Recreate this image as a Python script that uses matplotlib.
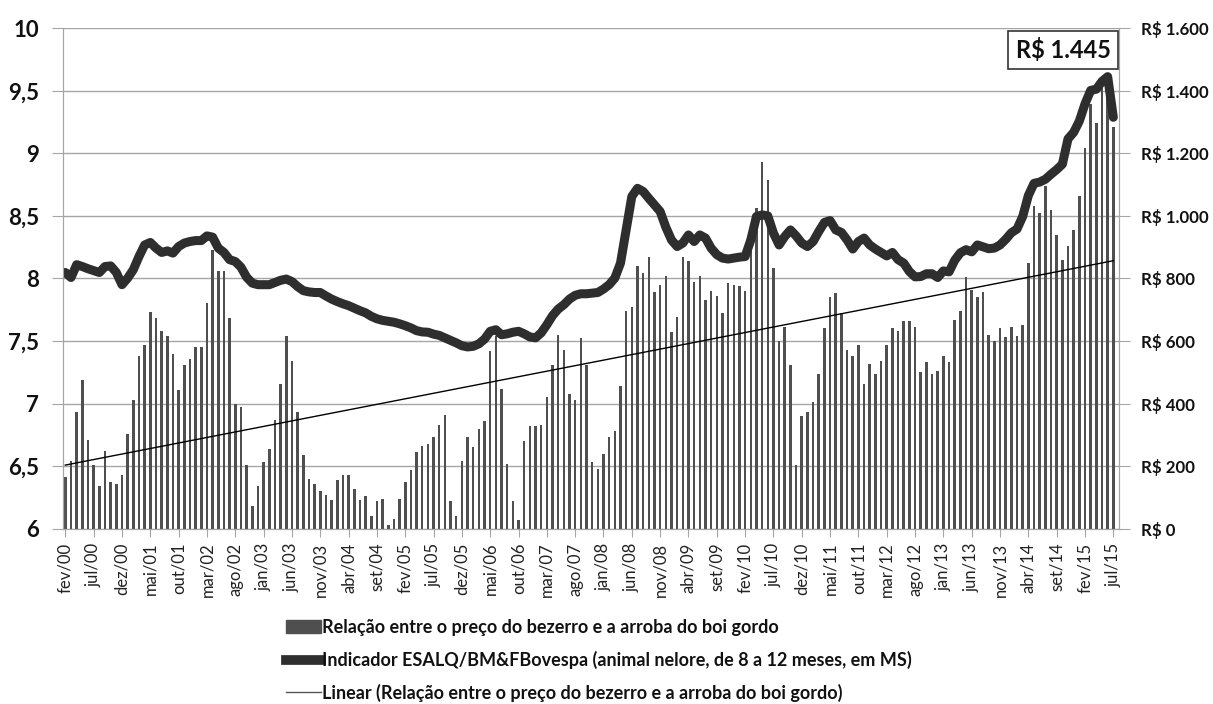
import matplotlib
matplotlib.use("Agg")
from matplotlib import pyplot as plt
from matplotlib.patches import Patch
from matplotlib.lines import Line2D
import numpy as np

plt.rcParams['font.family'] = ['Lato', 'DejaVu Sans']

# meses de fev/00 a jul/15
meses = ['jan', 'fev', 'mar', 'abr', 'mai', 'jun', 'jul', 'ago', 'set', 'out', 'nov', 'dez']
anos = list(range(0, 16))

# relacao bezerro / arroba do boi gordo (eixo esquerdo)
relacao = [6.41, 6.54, 6.93, 7.19, 6.71, 6.51, 6.34, 6.62, 6.37, 6.36,
           6.43, 6.76, 7.03, 7.38, 7.47, 7.73, 7.68, 7.58, 7.54, 7.40,
           7.11, 7.31, 7.36, 7.45, 7.45, 7.80, 8.23, 8.06, 8.06, 7.68,
           7.00, 6.97, 6.51, 6.18, 6.34, 6.53, 6.64, 6.87, 7.16, 7.54,
           7.34, 6.93, 6.59, 6.40, 6.36, 6.30, 6.27, 6.23, 6.39, 6.43,
           6.43, 6.32, 6.23, 6.26, 6.10, 6.22, 6.24, 6.03, 6.08, 6.24,
           6.37, 6.47, 6.61, 6.66, 6.68, 6.73, 6.83, 6.91, 6.22, 6.10,
           6.54, 6.73, 6.65, 6.80, 6.86, 7.42, 7.54, 7.12, 6.52, 6.22,
           6.07, 6.70, 6.82, 6.82, 6.83, 7.05, 7.31, 7.55, 7.43, 7.08,
           7.03, 7.52, 7.31, 6.53, 6.48, 6.60, 6.73, 6.78, 7.14, 7.74,
           7.77, 8.10, 8.04, 8.17, 7.89, 7.95, 8.02, 7.57, 7.69, 8.17,
           8.14, 7.97, 8.02, 7.83, 7.90, 7.86, 7.72, 7.96, 7.95, 7.94,
           7.90, 8.31, 8.56, 8.93, 8.79, 8.08, 7.50, 7.61, 7.31, 6.51,
           6.90, 6.93, 7.01, 7.24, 7.60, 7.85, 7.88, 7.72, 7.43, 7.38,
           7.47, 7.16, 7.32, 7.24, 7.34, 7.47, 7.60, 7.58, 7.66, 7.66,
           7.61, 7.25, 7.33, 7.24, 7.26, 7.38, 7.33, 7.67, 7.74, 8.01,
           7.91, 7.85, 7.89, 7.55, 7.50, 7.60, 7.53, 7.61, 7.54, 7.63,
           8.12, 8.58, 8.52, 8.74, 8.55, 8.35, 8.15, 8.26, 8.39, 8.66,
           9.04, 9.39, 9.24, 9.61, 9.49, 9.21]

# indicador ESALQ/BM&FBovespa em R$ (eixo direito)
indicador = [819, 803, 844, 838, 831, 825, 819, 838, 840, 819,
             780, 801, 828, 870, 907, 915, 897, 883, 888, 881,
             902, 913, 918, 921, 921, 936, 932, 897, 883, 860,
             854, 836, 804, 785, 780, 780, 780, 787, 794, 798,
             790, 774, 761, 757, 755, 755, 744, 734, 726, 719,
             713, 705, 697, 690, 679, 671, 666, 663, 660, 655,
             649, 642, 633, 629, 628, 622, 618, 610, 602, 594,
             585, 581, 583, 591, 606, 631, 636, 620, 623, 628,
             631, 623, 613, 610, 626, 652, 681, 702, 716, 734,
             746, 751, 751, 753, 755, 766, 780, 801, 849, 955,
             1062, 1088, 1078, 1056, 1035, 1014, 964, 923, 902, 913,
             939, 918, 939, 929, 897, 876, 865, 862, 865, 868,
             870, 923, 998, 1003, 1000, 945, 907, 934, 955, 936,
             913, 902, 918, 950, 979, 985, 955, 947, 923, 894,
             918, 929, 907, 894, 883, 872, 883, 860, 849, 822,
             805, 806, 815, 815, 803, 824, 821, 858, 882, 892,
             885, 907, 901, 895, 897, 907, 925, 946, 958, 998,
             1065, 1104, 1108, 1117, 1133, 1148, 1165, 1246, 1267, 1303,
             1358, 1401, 1405, 1430, 1445, 1315]

yticks_esq = [6, 6.5, 7, 7.5, 8, 8.5, 9, 9.5, 10]
ylabels_esq = ['6', '6,5', '7', '7,5', '8', '8,5', '9', '9,5', '10']
yticks_dir = [0, 200, 400, 600, 800, 1000, 1200, 1400, 1600]
ylabels_dir = ['R$ 0', 'R$ 200', 'R$ 400', 'R$ 600', 'R$ 800',
               'R$ 1.000', 'R$ 1.200', 'R$ 1.400', 'R$ 1.600']
destaque = 'R$ 1.445'

rotulos = []
for a in anos:
    for m in meses:
        rotulos.append("%s/%02d" % (m, a))
rotulos = rotulos[1:1 + len(relacao)]

x = np.arange(len(relacao))
tendencia = np.polyval(np.polyfit(x, relacao, 1), x)

fig = plt.figure(figsize=(12.13, 7.04), dpi=100)
ax = fig.add_axes([0.052, 0.249, 0.8705, 0.711])
ax2 = ax.twinx()

cinza = '#a6a6a6'
ax.bar(x, np.array(relacao) - 6, bottom=6, width=0.45, color='#4f4f4f', zorder=2)
ax.plot(x, tendencia, color='black', lw=1.0, zorder=3)
ax2.plot(x, indicador, color='#2e2e2e', lw=6.5, solid_capstyle='round', solid_joinstyle='round')

ax.set_ylim(6, 10)
ax2.set_ylim(0, 1600)
ax.set_xlim(-0.4, 186.0)

ax.set_yticks(yticks_esq)
ax.set_yticklabels(ylabels_esq, fontsize=16, fontweight='bold', color='#111111')
ax2.set_yticks(yticks_dir)
ax2.set_yticklabels(ylabels_dir, fontsize=12.2, fontweight='bold', color='#111111')

ax.set_xticks(x[::5])
ax.set_xticklabels(rotulos[::5], rotation=90, fontsize=12, color='#222222')

ax.grid(axis='y', color=cinza, lw=1.0)
ax.set_axisbelow(True)
for a_ in (ax, ax2):
    for s in a_.spines.values():
        s.set_color(cinza)
    a_.spines['top'].set_visible(False)
ax.tick_params(axis='x', length=6, color=cinza, pad=4)
ax.tick_params(axis='y', length=8, color=cinza, pad=9.5)
ax2.tick_params(axis='y', length=8, color=cinza, pad=8)

ax2.text(0.947, 0.957, destaque, transform=ax.transAxes, ha='center', va='center',
         fontsize=17, fontweight='bold', color='#111111',
         bbox=dict(boxstyle='square,pad=0.3', fc='white', ec='#333333', lw=1.2))

handles = [Patch(color='#4f4f4f'),
           Line2D([], [], color='#2e2e2e', lw=7),
           Line2D([], [], color='#555555', lw=1)]
labels = ['Relação entre o preço do bezerro e a arroba do boi gordo',
          'Indicador ESALQ/BM&FBovespa (animal nelore, de 8 a 12 meses, em MS)',
          'Linear (Relação entre o preço do bezerro e a arroba do boi gordo)']
leg = fig.legend(handles, labels, loc='upper left', bbox_to_anchor=(0.230, 0.131),
                 frameon=False, fontsize=13, handlelength=1.9, handletextpad=0.1,
                 labelspacing=0.82, borderaxespad=0)
for t in leg.get_texts():
    t.set_fontweight('bold')
    t.set_color('#111111')

fig.savefig('out.png', dpi=100)
